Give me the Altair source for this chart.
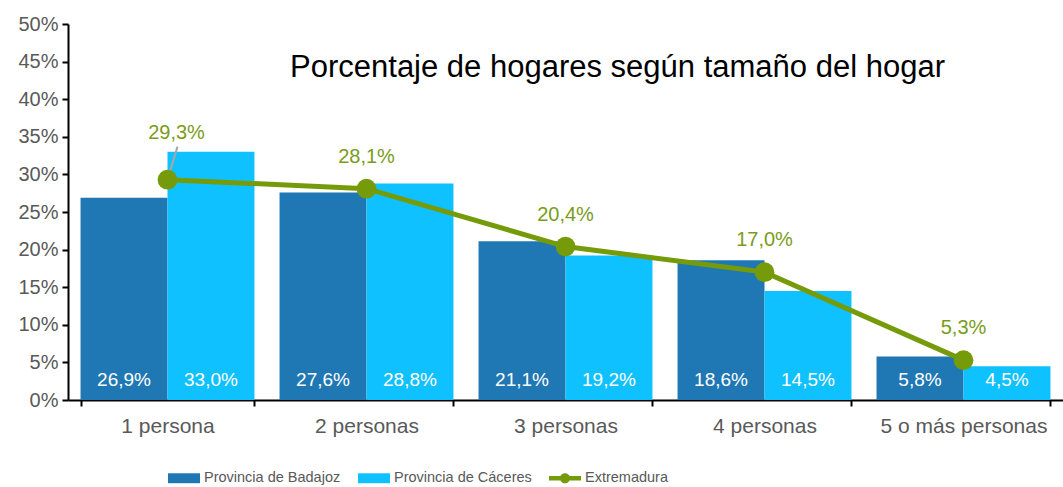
import altair as alt
import pandas as pd

categories = ["1 persona", "2 personas", "3 personas", "4 personas", "5 o más personas"]
series_names = ["Provincia de Badajoz", "Provincia de Cáceres", "Extremadura"]
badajoz = [26.9, 27.6, 21.1, 18.6, 5.8]
caceres = [33.0, 28.8, 19.2, 14.5, 4.5]
extremadura = [29.3, 28.1, 20.4, 17.0, 5.3]
colors = ["#1F77B4", "#10C1FF", "#759B0A"]
y_ticks = [0, 5, 10, 15, 20, 25, 30, 35, 40, 45, 50]

FONT = "Liberation Sans"

RECT = "M-1,-0.31H1V0.31H-1Z"
LINE_DOT = "M-1,-0.14H1V0.14H-1Z M0.32,0A0.32,0.32 0 1,1 -0.32,0A0.32,0.32 0 1,1 0.32,0Z"

bars_df = pd.DataFrame(
    [{"cat": c, "series": series_names[0], "value": v} for c, v in zip(categories, badajoz)]
    + [{"cat": c, "series": series_names[1], "value": v} for c, v in zip(categories, caceres)]
)
line_df = pd.DataFrame({"cat": categories, "value": extremadura, "idx": list(range(len(categories)))})
legend_df = pd.DataFrame({"series": series_names, "value": [None, None, None]})

label_expr = "replace(format(datum.value, '.1f'), '.', ',') + '%'"

y_scale = alt.Scale(domain=[0, 50], nice=False)
y_axis = alt.Axis(
    title=None, values=y_ticks, labelExpr="datum.value + '%'", labelFont=FONT,
    labelFontSize=20, labelColor="#595959", labelPadding=4, tickSize=6, labelOverlap=False,
    tickColor="#000000", tickWidth=2, domainColor="#000000", domainWidth=2, grid=False,
)

legend = alt.Legend(
    title=None, orient="none", direction="horizontal", legendX=100, legendY=438,
    labelFont=FONT, labelFontSize=14.5, labelColor="#595959", symbolSize=1024,
    labelOffset=4, columnPadding=17, symbolStrokeWidth=0, symbolOpacity=1,
)
color_scale = alt.Scale(domain=series_names, range=colors)

x_enc = alt.X(
    "cat:N",
    sort=categories,
    scale=alt.Scale(domain=categories, paddingInner=0.126, paddingOuter=0.063),
    axis=alt.Axis(
        title=None, labelAngle=0, labelFont=FONT, labelFontSize=21, labelColor="#595959",
        labelPadding=9, tickBand="extent", tickSize=6, tickColor="#000000", tickWidth=2,
        domainColor="#000000", domainWidth=2, grid=False,
    ),
)

bars = alt.Chart(bars_df).mark_bar().encode(
    x=x_enc,
    xOffset=alt.XOffset("series:N", sort=series_names[:2], scale=alt.Scale(paddingInner=0, paddingOuter=0)),
    y=alt.Y("value:Q", scale=y_scale, axis=y_axis),
    color=alt.Color("series:N", scale=color_scale, legend=legend),
)

legend_layer = alt.Chart(legend_df).mark_point(filled=True, opacity=1, size=1024, strokeWidth=0).encode(
    y=alt.Y("value:Q", scale=y_scale, axis=y_axis),
    color=alt.Color("series:N", scale=color_scale, legend=legend),
    shape=alt.Shape("series:N", scale=alt.Scale(domain=series_names, range=[RECT, RECT, LINE_DOT]), legend=legend),
)

bar_labels = alt.Chart(bars_df).transform_calculate(label=label_expr).mark_text(
    font=FONT, fontSize=19, color="#FFFFFF", baseline="alphabetic", dy=-14
).encode(
    x=alt.X("cat:N", sort=categories),
    xOffset=alt.XOffset("series:N", sort=series_names[:2]),
    y=alt.YDatum(0, type="quantitative", scale=y_scale, axis=y_axis),
    text="label:N",
)

line = alt.Chart(line_df).mark_line(color=colors[2], strokeWidth=5).encode(
    x=alt.X("cat:N", sort=categories),
    y=alt.Y("value:Q", scale=y_scale, axis=y_axis),
)

leader = alt.Chart(line_df).transform_filter("datum.idx == 0").mark_rule(
    color="#A6A6A6", strokeWidth=2, x2Offset=10, y2Offset=-33
).encode(
    x=alt.X("cat:N", sort=categories),
    x2="cat:N",
    y=alt.Y("value:Q", scale=y_scale, axis=y_axis),
    y2="value:Q",
)

points = alt.Chart(line_df).mark_circle(color=colors[2], size=390, opacity=1).encode(
    x=alt.X("cat:N", sort=categories),
    y=alt.Y("value:Q", scale=y_scale, axis=y_axis),
)

line_labels_first = alt.Chart(line_df).transform_filter("datum.idx == 0").transform_calculate(
    label=label_expr
).mark_text(font=FONT, fontSize=20, color="#7A9C1A", baseline="alphabetic", dy=-41, dx=9).encode(
    x=alt.X("cat:N", sort=categories),
    y=alt.Y("value:Q", scale=y_scale, axis=y_axis),
    text="label:N",
)

line_labels_rest = alt.Chart(line_df).transform_filter("datum.idx > 0").transform_calculate(
    label=label_expr
).mark_text(font=FONT, fontSize=20, color="#7A9C1A", baseline="alphabetic", dy=-26).encode(
    x=alt.X("cat:N", sort=categories),
    y=alt.Y("value:Q", scale=y_scale, axis=y_axis),
    text="label:N",
)

chart = alt.layer(
    bars, bar_labels, line, leader, points, line_labels_first, line_labels_rest, legend_layer
).properties(
    width=995,
    height=376,
    background="#FFFFFF",
    autosize=alt.AutoSizeParams(type="none"),
    padding={"left": 68, "top": 24, "right": 0, "bottom": 87},
    title=alt.Title(
        "Porcentaje de hogares según tamaño del hogar",
        font=FONT, fontSize=31, fontWeight="normal", color="#000000",
        anchor="middle", dx=52, dy=74,
    ),
).configure_view(stroke=None).configure_axis(grid=False)

chart.save("out.html", embed_options={"renderer": "svg", "actions": False})
